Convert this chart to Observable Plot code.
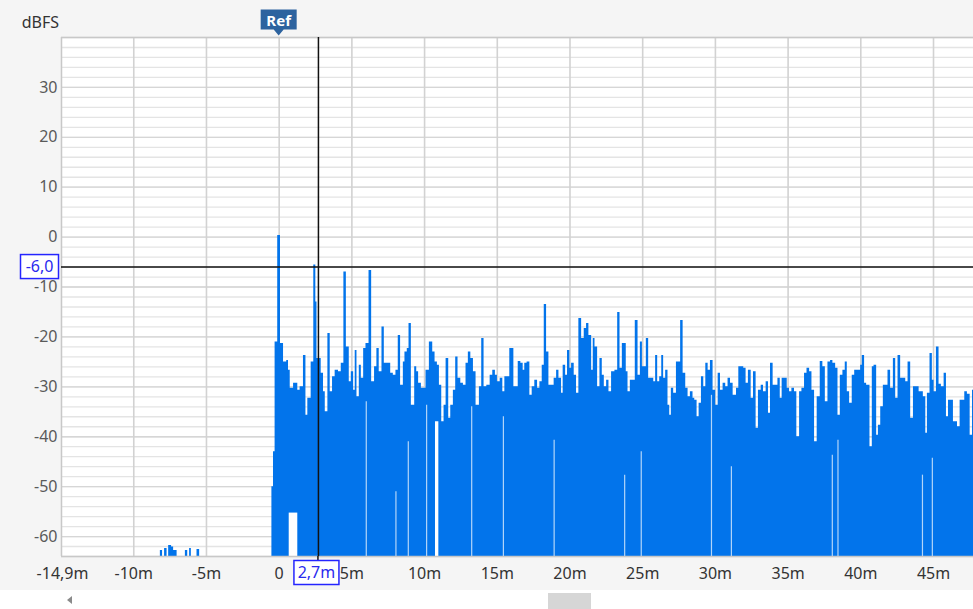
<!DOCTYPE html>
<html><head><meta charset="utf-8">
<script src="https://cdn.jsdelivr.net/npm/d3@7"></script>
<script src="https://cdn.jsdelivr.net/npm/@observablehq/plot@0.6"></script>
<style>
html,body{margin:0;padding:0;background:#f5f5f5;width:973px;height:609px;overflow:hidden;font-family:"Noto Sans",sans-serif;}
#chart{position:relative;width:973px;height:590px;}
#scroll{position:relative;width:973px;height:19px;background:#fff;}
#arrow{position:absolute;left:67px;top:6px;width:0;height:0;border-top:4px solid transparent;border-bottom:4px solid transparent;border-right:5px solid #8a8a8a;}
#thumb{position:absolute;left:548px;top:3px;width:43px;height:16px;background:#d6d6d6;}
</style></head><body>
<div id="chart"></div>
<div id="scroll"><div id="arrow"></div><div id="thumb"></div></div>
<script>
// distance (m), level (dBFS)
const preRinging = [
  [-8.17,-62.8],[-8.02,-64],[-7.88,-62.4],[-7.71,-64],[-7.60,-61.8],[-7.40,-62.1],[-7.26,-62.8],[-7.02,-64],
  [-6.45,-62.8],[-6.29,-64],[-6.16,-62.4],[-6.04,-64],[-5.65,-62.6],[-5.47,-64]
];
const response = [
  [-0.50,-50],[-0.39,-43],[-0.28,-21],[-0.10,0.3],[0.09,-21.3],[0.30,-25],[0.52,-24.7],[0.64,-26.7],[0.76,-30.3],
  [0.99,-29.3],[1.28,-30.7],[1.44,-30],[1.67,-23.7],[1.84,-35.7],[1.97,-32.3],[2.20,-25],[2.38,-5.6],[2.52,-13],
  [2.60,-24.3],[2.89,-27.3],[3.05,-31],[3.17,-35],[3.35,-19.3],[3.51,-31],[3.67,-28],[3.85,-26.7],[4.08,-27],
  [4.27,-25.3],[4.45,-7],[4.62,-22],[4.82,-29],[4.96,-27],[5.12,-30.7],[5.23,-22.7],[5.35,-32],[5.51,-25.7],
  [5.65,-28.3],[5.81,-22.3],[5.97,-21.3],[6.18,-6.7],[6.36,-29],[6.56,-26],[6.72,-22.3],[6.88,-27],[7.07,-18],
  [7.23,-25.3],[7.39,-25.3],[7.67,-27.3],[7.85,-27.7],[8.03,-26.7],[8.19,-19.7],[8.35,-29.7],[8.54,-25],[8.65,-23],
  [8.81,-22.3],[8.93,-17.3],[9.09,-33.7],[9.32,-26],[9.46,-27],[9.59,-29.3],[9.78,-30.3],[10.10,-26.7],[10.33,-21],
  [10.56,-23],[10.72,-25],[10.88,-25.7],[11.02,-29.7],[11.18,-37],[11.34,-33.7],[11.48,-24.3],[11.66,-36.3],
  [11.80,-33.7],[11.98,-30.7],[12.14,-24],[12.30,-28.3],[12.49,-29.3],[12.67,-29.7],[12.85,-25.3],[13.01,-23],
  [13.18,-24.3],[13.36,-27],[13.54,-33.7],[13.77,-30],[13.93,-20.3],[14.09,-30],[14.28,-29.7],[14.51,-27.7],
  [14.69,-26.7],[14.87,-27.7],[15.01,-29],[15.20,-28.3],[15.38,-31],[15.52,-28],[15.86,-22.3],[16.14,-30],
  [16.44,-24.9],[16.62,-25.3],[16.78,-26.7],[16.89,-25.3],[17.05,-25],[17.24,-31.7],[17.40,-30],[17.58,-28.7],
  [17.77,-30.3],[17.93,-29],[18.09,-25.7],[18.23,-13.5],[18.39,-23],[18.55,-29.7],[18.91,-28.3],[19.08,-26.7],
  [19.24,-28.3],[19.42,-31.3],[19.53,-25.7],[19.70,-27.7],[19.83,-22.7],[19.99,-26.3],[20.11,-25.3],[20.29,-27.7],
  [20.45,-31.3],[20.61,-16.3],[20.80,-20.3],[20.98,-18.3],[21.14,-17.3],[21.30,-19.7],[21.49,-26.7],[21.60,-20.3],
  [21.72,-22],[21.90,-30],[22.06,-24.3],[22.22,-27.7],[22.36,-30],[22.52,-28.7],[22.68,-31],[22.86,-27],
  [23.09,-26.7],[23.28,-15.1],[23.44,-26.3],[23.60,-21.3],[23.87,-27],[23.99,-31],[24.15,-28.7],[24.49,-16.7],
  [24.68,-27.7],[24.84,-21],[24.98,-26],[25.25,-20.3],[25.41,-28.3],[25.76,-29],[25.89,-23.7],[26.03,-29],
  [26.17,-28],[26.31,-23.7],[26.44,-28.3],[26.58,-26.7],[26.74,-33.7],[26.86,-35.7],[26.97,-30.3],[27.13,-31.3],
  [27.32,-25],[27.61,-16.7],[27.78,-27.3],[27.96,-30.3],[28.12,-32],[28.28,-31],[28.46,-32.3],[28.58,-32.7],
  [28.74,-36],[28.88,-33.3],[29.04,-28],[29.20,-30],[29.34,-25.3],[29.50,-26.7],[29.66,-24.7],[29.84,-30.7],
  [30.02,-33.7],[30.19,-27.3],[30.35,-30.7],[30.53,-29.3],[30.71,-30],[30.87,-28.3],[31.04,-29.3],[31.22,-31.7],
  [31.45,-30.3],[31.61,-26],[31.95,-26.3],[32.11,-29.3],[32.27,-26.7],[32.46,-32.3],[32.62,-27],[32.80,-38.3],
  [32.96,-30.7],[33.15,-29.7],[33.31,-31],[33.49,-29],[33.65,-35.3],[33.79,-25.3],[33.97,-29.7],[34.30,-28.3],
  [34.46,-32.3],[34.59,-28.3],[34.94,-30.3],[35.10,-31],[35.26,-30.3],[35.44,-31],[35.60,-40],[35.79,-31],
  [35.95,-30.3],[36.13,-27.3],[36.30,-26.3],[36.48,-27],[36.64,-30.7],[36.82,-41],[37.00,-32],[37.21,-24.9],
  [37.39,-26],[37.56,-33],[37.74,-25],[37.92,-24.7],[38.08,-25.3],[38.27,-26.3],[38.43,-35.7],[38.59,-27.7],
  [38.77,-26.7],[38.93,-25],[39.07,-31],[39.23,-33.3],[39.41,-27.7],[39.58,-26.7],[39.99,-25.7],[40.10,-23.7],
  [40.26,-29.3],[40.40,-29.7],[40.63,-42],[40.79,-26],[40.91,-25.7],[41.09,-39.7],[41.21,-37.7],[41.37,-34],
  [41.55,-29.7],[41.87,-26.7],[42.05,-30.3],[42.24,-24.3],[42.40,-32.3],[42.56,-23.7],[42.74,-28.3],[43.09,-29],
  [43.25,-25],[43.43,-36.3],[43.62,-30],[44.01,-31],[44.30,-32],[44.47,-39.3],[44.58,-31.3],[44.76,-23.3],
  [44.92,-28.7],[45.04,-31],[45.20,-22],[45.38,-29.5],[45.54,-30],[45.73,-27.3],[45.89,-36],[46.03,-32.7],
  [46.37,-37],[46.65,-38],[46.83,-32.7],[47.15,-31],[47.33,-31.5],[47.52,-39.7],[47.68,-30.7],[47.90,-30.7]
];
// narrow dips where the signal never reaches the floor: [distance, lowest dBFS]
const dips = [
  [5.99,-33],[8.03,-51],[8.88,-41],[10.14,-33.7],[13.24,-34],[15.42,-36],[18.91,-40.7],[23.76,-47.7],
  [24.9,-43],[29.73,-31.7],[31.1,-46],[38.04,-43.7],[38.43,-40.7],[44.24,-47.7],[44.92,-44.3]
];
// wider gaps: [from, to, lowest dBFS]
const gaps = [[0.69,1.28,-55.3],[10.75,10.98,-37]];

const xTicks = [-14.9,-10,-5,0,5,10,15,20,25,30,35,40,45];
const xGrid = [-10,-5,0,5,10,15,20,25,30,35,40,45];
const yTicks = [30,20,10,0,-10,-20,-30,-40,-50,-60];
const xDomain = [-14.97,47.75];
const yDomain = [-64,40];
const cursorX = 2.7, cursorY = -6.0;
const refX = 0;

const BLUE = "#0274eb";
const rows = preRinging.concat(response).map(([d,v]) => ({d, v}));
const dipRows = dips.map(([d,v]) => ({d, v}));
const gapRows = gaps.map(([a,b,v]) => ({a, b, v}));
const minorGrid = d3.range(yDomain[0], yDomain[1] + 1, 2);

const plot = Plot.plot({
  width: 973, height: 590,
  marginLeft: 61, marginRight: 0, marginTop: 37, marginBottom: 34,
  style: {fontFamily: "'Noto Sans', sans-serif", fontSize: "16px", background: "#f5f5f5", color: "#4a4a4a", overflow: "visible"},
  x: {domain: xDomain, ticks: xTicks, tickSize: 0, tickPadding: 11, label: null,
      tickFormat: d => d === 0 ? "0" : (String(d) + "m").replace(".", ",")},
  y: {domain: yDomain, ticks: yTicks, tickSize: 0, tickPadding: 4, label: null, tickFormat: d => String(d)},
  marks: [
    Plot.frame({fill: "white", stroke: "none"}),
    Plot.ruleY(minorGrid, {stroke: "#e4e4e4", strokeWidth: 1.3}),
    Plot.ruleY(yTicks, {stroke: "#d6d6d6", strokeWidth: 1.3}),
    Plot.ruleX(xGrid, {stroke: "#d2d2d2", strokeWidth: 1.6}),
    Plot.areaY(rows, {x: "d", y1: yDomain[0], y2: "v", curve: "step-after", fill: BLUE, clip: true}),
    Plot.rect(gapRows, {x1: "a", x2: "b", y1: yDomain[0], y2: "v", fill: "white"}),
    Plot.ruleX(dipRows, {x: "d", y1: yDomain[0], y2: "v", stroke: "white", strokeOpacity: 0.7, strokeWidth: 1.2}),
    Plot.ruleY([yDomain[1]], {stroke: "#c8c8c8", strokeWidth: 1.5}),
    Plot.ruleY([yDomain[0]], {stroke: "#c8c8c8", strokeWidth: 1.5}),
    Plot.ruleX([xDomain[0]], {stroke: "#c8c8c8", strokeWidth: 1.5}),
    Plot.ruleX([cursorX], {stroke: "#111", strokeWidth: 1.5}),
    Plot.ruleY([cursorY], {stroke: "#111", strokeWidth: 1.5})
  ]
});
document.getElementById("chart").appendChild(plot);

// overlays positioned through the plot's scales
const xs = plot.scale("x"), ys = plot.scale("y");
const fx = xs.apply ? (v => xs.apply(v)) : d3.scaleLinear(xs.domain, xs.range);
const fy = ys.apply ? (v => ys.apply(v)) : d3.scaleLinear(ys.domain, ys.range);
const svg = d3.select(plot);
svg.selectAll('[aria-label^="x-axis"]').style("color", "#333");
svg.selectAll('[aria-label^="y-axis"]').style("color", "#5a5a5a");
const yBottom = fy(yDomain[0]), xLeft = fx(xDomain[0]);

svg.append("text").attr("x", xLeft - 2).attr("y", 28).attr("text-anchor", "end")
  .attr("fill", "#333").style("font-size", "16px").text("dBFS");

// Ref marker
const rx = fx(refX);
svg.append("path")
  .attr("d", `M${rx-18},9.5H${rx+18}V29.5H${rx+5}L${rx},35.5L${rx-5},29.5H${rx-18}Z`)
  .attr("fill", "#2d639f");
svg.append("text").attr("x", rx).attr("y", 26).attr("text-anchor", "middle")
  .attr("fill", "white").style("font-size", "15px").style("font-weight", "bold").text("Ref");

// cursor value boxes
const cx = fx(cursorX), cy = fy(cursorY);
svg.append("line").attr("x1", cx).attr("x2", cx).attr("y1", yBottom).attr("y2", yBottom + 5)
  .attr("stroke", "#111").attr("stroke-width", 1.5);
svg.append("rect").attr("x", 20.5).attr("y", cy - 12).attr("width", 38).attr("height", 24)
  .attr("fill", "white").attr("stroke", "#2525ff").attr("stroke-width", 1.5);
svg.append("text").attr("x", 39.5).attr("y", cy).attr("dy", "0.35em").attr("text-anchor", "middle")
  .attr("fill", "#2a2aee").style("font-size", "16px").text(String(cursorY.toFixed(1)).replace(".", ","));
svg.append("rect").attr("x", cx - 24).attr("y", yBottom + 4.5).attr("width", 45).attr("height", 24)
  .attr("fill", "white").attr("stroke", "#2525ff").attr("stroke-width", 1.5);
svg.append("text").attr("x", cx - 1.5).attr("y", yBottom + 16.5).attr("dy", "0.35em").attr("text-anchor", "middle")
  .attr("fill", "#2a2aee").style("font-size", "16px").text(String(cursorX).replace(".", ",") + "m");
</script>
</body></html>
